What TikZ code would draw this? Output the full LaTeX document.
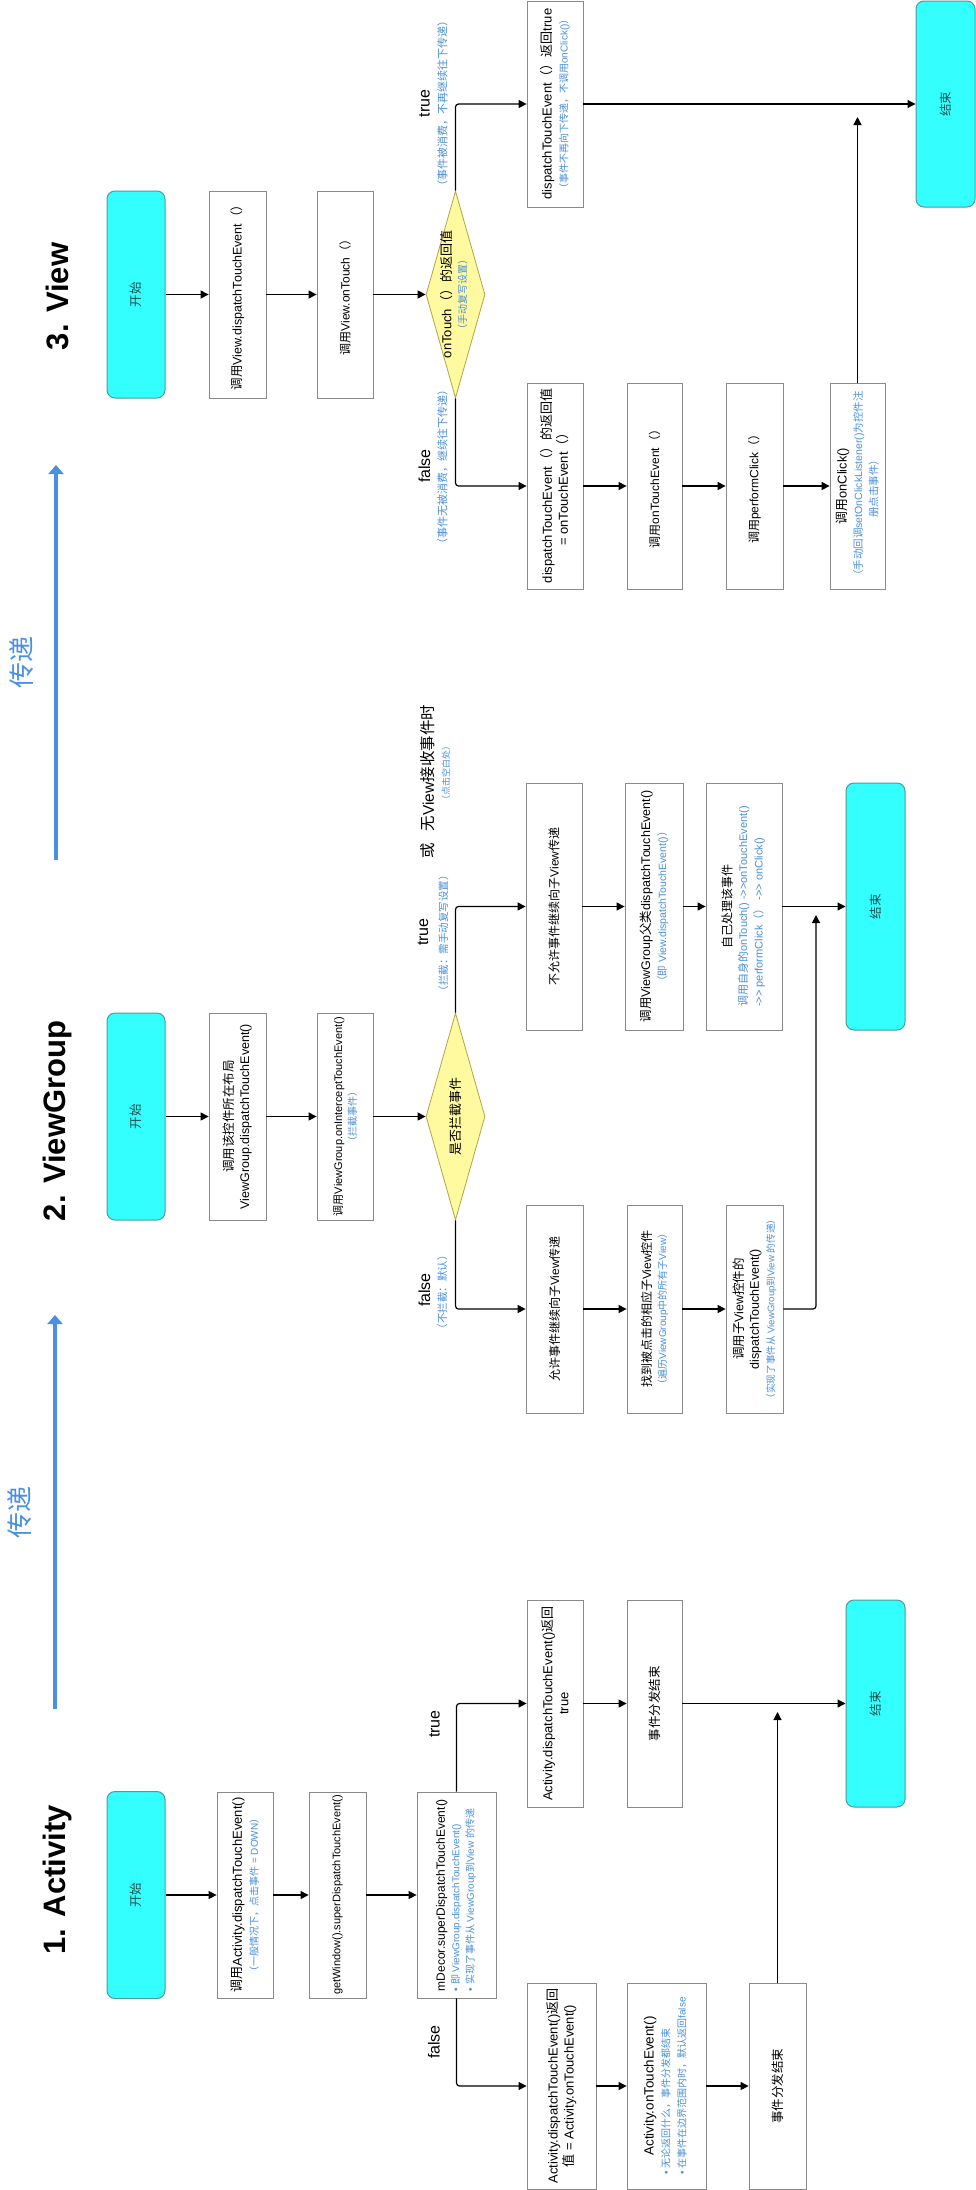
\documentclass[tikz,border=0pt]{standalone}
\usepackage{fontspec}
\setmainfont{Liberation Sans}
\newfontfamily\latf{Liberation Sans}
\newfontfamily\cjkf{Noto Sans CJK SC}
\usetikzlibrary{arrows.meta,shapes.geometric}
\XeTeXinterchartokenstate=1
\newXeTeXintercharclass\CJKcls
\count255="2E80
\loop
  \XeTeXcharclass\count255=\CJKcls
  \advance\count255 by 1
\ifnum\count255<"A000
\repeat
\count255="FF00
\loop
  \XeTeXcharclass\count255=\CJKcls
  \advance\count255 by 1
\ifnum\count255<"FFF0
\repeat
\XeTeXinterchartoks 0 \CJKcls = {\cjkf}
\XeTeXinterchartoks 4095 \CJKcls = {\cjkf}
\XeTeXinterchartoks \CJKcls 0 = {\latf}
\XeTeXinterchartoks \CJKcls 4095 = {\latf}
\definecolor{termfill}{HTML}{33FFFF}
\definecolor{termline}{HTML}{4F9A9A}
\definecolor{termtext}{HTML}{1E4E4E}
\definecolor{decfill}{HTML}{FFFAA0}
\definecolor{decline}{HTML}{B3A545}
\definecolor{notec}{HTML}{4A90D9}
\definecolor{boxline}{HTML}{8A8A8A}
\definecolor{flowblue}{HTML}{4A90E2}
\newcommand\fsz[2]{\fontsize{#1}{#2}\selectfont}
\newcommand\nt[2][10]{{\color{notec}\fsz{#1}{13}#2}}
\newcommand\dgt{->\kern0pt>}
\tikzset{
 box/.style={draw=boxline, line width=0.8pt, fill=white, rotate=90, inner sep=1pt, align=center, font=\fsz{13}{16}},
 term/.style={draw=termline, fill=termfill, rounded corners=8pt, rotate=90, line width=1pt, font=\fsz{12.5}{15}, text=termtext, minimum width=207pt, minimum height=58pt},
 decision/.style={diamond, draw=decline, fill=decfill, rotate=90, inner sep=0pt, aspect=3.5, line width=0.8pt, minimum width=207pt, minimum height=59pt},
 conn/.style={line width=1.2pt, rounded corners=3pt, -{Triangle[length=8pt,width=8pt]}},
 flow/.style={draw=flowblue, line width=3.5pt, -{Triangle[length=9pt,width=15pt]}},
 lbl/.style={rotate=90, inner sep=0pt, font=\fsz{16}{18}},
 nlbl/.style={rotate=90, inner sep=0pt, text=notec, font=\fsz{10.5}{12}},
 title/.style={rotate=90, inner sep=0pt, font=\fsz{31}{36}\bfseries},
 chuan/.style={rotate=90, inner sep=0pt, text=flowblue, font=\fsz{26}{30}},
}
\begin{document}
\begin{tikzpicture}[x=1pt,y=-1pt]
\fill[white] (0,0) rectangle (976,2190);
\useasboundingbox (0,0) rectangle (976,2190);

% ---------------- titles and flow arrows
\node[title] (t1) at (57,1880) {1. Activity};
\node[title] (t2) at (57,1121) {2. ViewGroup};
\node[title] (t3) at (57,296.5) {3. View};
\coordinate (f1a) at (55,1709);
\coordinate (f1b) at (55,1315);
\coordinate (f2a) at (56,860);
\coordinate (f2b) at (56,465);
\draw[flow] (f1a) -- (f1b);
\draw[flow] (f2a) -- (f2b);
\node[chuan] (c1) at (20,1512) {传递};
\node[chuan] (c2) at (22,662) {传递};

% ---------------- 1. Activity
\node[term] (AS) at (136,1895) {开始};
\node[box, minimum width=206pt, minimum height=56pt] (A1) at (245,1895)
  {调用Activity.dispatchTouchEvent()\\ \nt{（一般情况下，点击事件 = DOWN）}};
\node[box, font=\fsz{11}{13}, minimum width=206pt, minimum height=57pt] (A2) at (337.5,1895)
  {getWindow().superDispatchTouchEvent()};
\node[box, font=\fsz{12}{14.5}, minimum width=206pt, minimum height=79pt] (A3) at (456.5,1895)
  {\begin{tabular}{@{}l@{}}mDecor.superDispatchTouchEvent()\\ \nt{• 即 ViewGroup.dispatchTouchEvent()}\\ \nt{• 实现了事件从 ViewGroup到View 的传递}\end{tabular}};
\node[box, minimum width=207pt, minimum height=56pt] (T1) at (555,1703.5)
  {Activity.dispatchTouchEvent()返回\\true};
\node[box, font=\fsz{12.5}{15}, minimum width=207pt, minimum height=55pt] (T2) at (654.5,1703.5) {事件分发结束};
\node[term, minimum height=59pt] (AE) at (875.5,1703.5) {结束};
\node[box, minimum width=206pt, minimum height=69pt] (F1) at (561.5,2086)
  {Activity.dispatchTouchEvent()返回\\值 = Activity.onTouchEvent()};
\node[box, font=\fsz{13.4}{16}, minimum width=206pt, minimum height=79pt] (F2) at (666.5,2086)
  {\begin{tabular}{@{}l@{}}\multicolumn{1}{@{}c@{}}{Activity.onTouchEvent()}\\ \nt{• 无论返回什么，事件分发都结束}\\ \nt{• 在事件在边界范围内时，默认返回false}\end{tabular}};
\node[box, font=\fsz{12.5}{15}, minimum width=206pt, minimum height=57pt] (F3) at (777.5,2086) {事件分发结束};
\coordinate (aup) at (777.5,1712);

\draw[conn] (AS.south) -- (A1.north);
\draw[conn] (A1.south) -- (A2.north);
\draw[conn] (A2.south) -- (A3.north);
\draw[conn] (A3.east) |- (T1.north);
\draw[conn] (A3.west) |- (F1.north);
\draw[conn] (T1.south) -- (T2.north);
\draw[conn] (T2.south) -- (AE.north);
\draw[conn] (F1.south) -- (F2.north);
\draw[conn] (F2.south) -- (F3.north);
\draw[conn] (F3.east) -- (aup);
\node[lbl] (lat) at (434.5,1724) {true};
\node[lbl] (laf) at (434,2042) {false};

% ---------------- 2. ViewGroup
\node[term] (GS) at (136,1116.5) {开始};
\node[box, font=\fsz{12.5}{15.5}, minimum width=207pt, minimum height=57pt] (G1) at (237.5,1116.5)
  {调用该控件所在布局\\ViewGroup.dispatchTouchEvent()};
\node[box, font=\fsz{11}{14}, minimum width=207pt, minimum height=56pt] (G2) at (345,1116.5)
  {调用ViewGroup.onInterceptTouchEvent()\\ \nt{（拦截事件）}};
\node[decision, font=\fsz{12.9}{15}] (GD) at (455.5,1116.5) {\makebox[0pt]{是否拦截事件}};
\node[box, font=\fsz{12}{15}, minimum width=208pt, minimum height=57pt] (G3) at (554.5,1309)
  {允许事件继续向子View传递};
\node[box, font=\fsz{12}{15}, minimum width=208pt, minimum height=55pt] (G4) at (654.5,1309)
  {找到被点击的相应子View控件\\ \nt{（遍历ViewGroup中的所有子View）}};
\node[box, font=\fsz{12.5}{15.5}, minimum width=208pt, minimum height=57pt] (G5) at (754.5,1309)
  {调用子View控件的\\dispatchTouchEvent()\\ \nt[9.6]{（实现了事件从 ViewGroup到View 的传递）}};
\node[box, font=\fsz{12}{15}, minimum width=247pt, minimum height=56pt] (G6) at (554,906.5)
  {不允许事件继续向子View传递};
\node[box, font=\fsz{12.5}{16}, minimum width=247pt, minimum height=58pt] (G7) at (654,906.5)
  {调用ViewGroup父类dispatchTouchEvent()\\ \nt[10.5]{（即 View.dispatchTouchEvent()）}};
\node[box, font=\fsz{12}{15.5}, minimum width=247pt, minimum height=76pt] (G8) at (744,906.5)
  {\begin{tabular}{@{}l@{}}\multicolumn{1}{@{}c@{}}{自己处理该事件}\\ \nt[11]{调用自身的onTouch() \dgt onTouchEvent()}\\ \nt[11]{\dgt\ performClick（） \dgt\ onClick()}\end{tabular}};
\node[term, minimum width=247pt, minimum height=59pt] (GE) at (875.5,906.5) {结束};
\coordinate (gup) at (816,915);

\draw[conn] (GS.south) -- (G1.north);
\draw[conn] (G1.south) -- (G2.north);
\draw[conn] (G2.south) -- (GD.north);
\draw[conn] (GD.east) |- (G6.north);
\draw[conn] (GD.west) |- (G3.north);
\draw[conn] (G3.south) -- (G4.north);
\draw[conn] (G4.south) -- (G5.north);
\draw[conn] (G5.south) -| (gup);
\draw[conn] (G6.south) -- (G7.north);
\draw[conn] (G7.south) -- (G8.north);
\draw[conn] (G8.south) -- (GE.north);
\node[lbl] (lgf) at (424.5,1290) {false};
\node[nlbl] (lgfn) at (442.5,1292) {（不拦截：默认）};
\node[lbl] (lgt) at (423,932) {true};
\node[nlbl] (lgtn) at (443.5,933) {（拦截：需手动复写设置）};
\node[lbl, font=\fsz{15.5}{18}] (lgo) at (428,851) {或};
\node[lbl, font=\fsz{15.5}{18}] (lgw) at (428,768) {无View接收事件时};
\node[nlbl, font=\fsz{9}{11}] (lgwn) at (446,773) {（点击空白处）};

% ---------------- 3. View
\node[term] (VS) at (136,294.5) {开始};
\node[box, font=\fsz{12.5}{15}, minimum width=207pt, minimum height=57pt] (V1) at (237.5,294.5)
  {调用View.dispatchTouchEvent（）};
\node[box, font=\fsz{12}{15}, minimum width=207pt, minimum height=56pt] (V2) at (345,294.5)
  {调用View.onTouch（）};
\node[decision, font=\fsz{13}{15}] (VD) at (455.5,294.5)
  {\makebox[0pt]{\begin{tabular}{@{}c@{}}onTouch（）的返回值\\ \nt{（手动复写设置）}\end{tabular}}};
\node[box, minimum width=206pt, minimum height=56pt] (VT) at (555,104)
  {dispatchTouchEvent（）返回true\\ \nt{（事件不再向下传递，不调用onClick()）}};
\node[term, minimum width=206pt, minimum height=59pt] (VE) at (945.5,104) {结束};
\node[box, minimum width=206pt, minimum height=56pt] (VF1) at (555,486)
  {dispatchTouchEvent（）的返回值\\= onTouchEvent（）};
\node[box, font=\fsz{12}{15}, minimum width=206pt, minimum height=55pt] (VF2) at (654.5,486)
  {调用onTouchEvent（）};
\node[box, font=\fsz{12}{15}, minimum width=206pt, minimum height=57pt] (VF3) at (754.5,486)
  {调用performClick（）};
\node[box, font=\fsz{12.8}{15.5}, minimum width=206pt, minimum height=55pt] (VF4) at (857.5,486)
  {调用onClick()\\ \nt[10.5]{（手动回调setOnClickListener()为控件注}\\ \nt[10.5]{册点击事件）}};
\coordinate (vup) at (857.5,117);

\draw[conn] (VS.south) -- (V1.north);
\draw[conn] (V1.south) -- (V2.north);
\draw[conn] (V2.south) -- (VD.north);
\draw[conn] (VD.east) |- (VT.north);
\draw[conn] (VD.west) |- (VF1.north);
\draw[conn] (VT.south) -- (VE.north);
\draw[conn] (VF1.south) -- (VF2.north);
\draw[conn] (VF2.south) -- (VF3.north);
\draw[conn] (VF3.south) -- (VF4.north);
\draw[conn] (VF4.east) -- (vup);
\node[lbl] (lvt) at (424.5,103.5) {true};
\node[nlbl, font=\fsz{11}{13}] (lvtn) at (442.5,103) {（事件被消费，不再继续往下传递）};
\node[lbl] (lvf) at (424.5,466) {false};
\node[nlbl, font=\fsz{11}{13}] (lvfn) at (442.5,467) {（事件无被消费，继续往下传递）};
\end{tikzpicture}
\end{document}
